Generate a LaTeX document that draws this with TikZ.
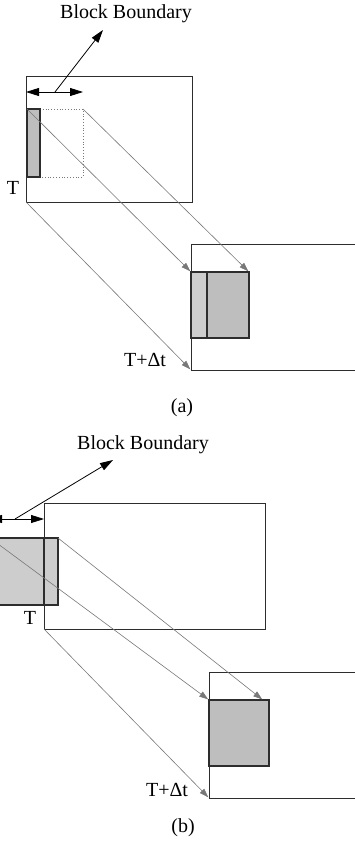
\documentclass[tikz,border=0pt]{standalone}
\usepackage{fontspec}
\setmainfont{Liberation Serif}
\usetikzlibrary{arrows.meta}
\definecolor{figK}{RGB}{45,45,45}
\definecolor{figL}{RGB}{120,120,120}
\definecolor{figS}{RGB}{205,205,205}
\definecolor{figT}{RGB}{190,190,190}

\begin{document}
\begin{tikzpicture}[x=1pt,y=-1pt,>={Triangle[length=9pt,width=6pt]},
  frm/.style={draw=figK,line width=0.8pt},
  ray/.style={figL,line width=0.6pt,->,shorten >=1pt},
  blk/.style={draw=figK,line width=1.4pt},
  ptr/.style={black,line width=0.8pt,-{Triangle[length=13pt,width=8pt]}},
  bnd/.style={black,line width=0.8pt,{Triangle[length=13pt,width=8pt]}-{Triangle[length=13pt,width=8pt]}},
  lbl/.style={font=\fontsize{20}{22}\selectfont,inner sep=0pt}]
\useasboundingbox (0,0) rectangle (355,848);
% (a)
\coordinate (aF) at (26,76); \coordinate (aT) at (26,202);
\coordinate (aS) at (27,109); \coordinate (aE) at (83,109);
\coordinate (aL) at (26,92); \coordinate (aR) at (83,92); \coordinate (aM) at (55,92); \coordinate (aK) at (103,30);
\coordinate (aG) at (191,244); \coordinate (aD) at (191,370);
\coordinate (aP) at (191,272); \coordinate (aQ) at (249,272);
\draw[frm] (aF) rectangle (192,202);
\draw[dotted,figL,line width=0.8pt] (40,109)--(aE)--(83,177)--(40,177);
\fill[figT] (aS) rectangle (40,177); \draw[blk] (aS) rectangle (40,177);
\draw[bnd] (aL) -- (aR); \draw[ptr] (aM) -- (aK);
\draw[frm] (356,244) -- (aG) -- (aD) -- (356,370);
\fill[figS] (aP) rectangle (207,338); \fill[figT] (207,272) rectangle (249,338);
\draw[blk] (aP) rectangle (249,338) (207,272) -- (207,338);
\draw[ray] (aS) -- (aP); \draw[ray] (aE) -- (aQ); \draw[ray] (aT) -- (aD);
\node[lbl] (aB) at (126,14) {Block Boundary};
\node[lbl] (aT0) at (13,188) {T};
\node[lbl] (aT1) at (145,360) {T+Δt};
\node[lbl] (aC) at (182,408) {(a)};
% (b)
\coordinate (bF) at (44,503); \coordinate (bT) at (44,629);
\coordinate (bS) at (-10,538); \coordinate (bE) at (58,538);
\coordinate (bL) at (-11,519); \coordinate (bR) at (44,519); \coordinate (bM) at (15,519); \coordinate (bK) at (113,460);
\coordinate (bG) at (209,672); \coordinate (bD) at (209,798);
\coordinate (bP) at (209,700); \coordinate (bQ) at (263,700);
\draw[frm] (bF) rectangle (265,629);
\fill[figS] (bS) rectangle (58,605); \draw[blk] (bS) rectangle (58,605);
\draw[figK,line width=2pt] (44,538) -- (44,605);
\draw[bnd] (bL) -- (bR); \draw[ptr] (bM) -- (bK);
\draw[frm] (356,672) -- (bG) -- (bD) -- (356,798);
\fill[figT] (bP) rectangle (269,766); \draw[blk] (bP) rectangle (269,766);
\draw[ray] (bS) -- (bP); \draw[ray] (bE) -- (bQ); \draw[ray] (bT) -- (bD);
\node[lbl] (bB) at (143,445) {Block Boundary};
\node[lbl] (bT0) at (30,618) {T};
\node[lbl] (bT1) at (167,790) {T+Δt};
\node[lbl] (bC) at (183,828) {(b)};
\end{tikzpicture}
\end{document}
